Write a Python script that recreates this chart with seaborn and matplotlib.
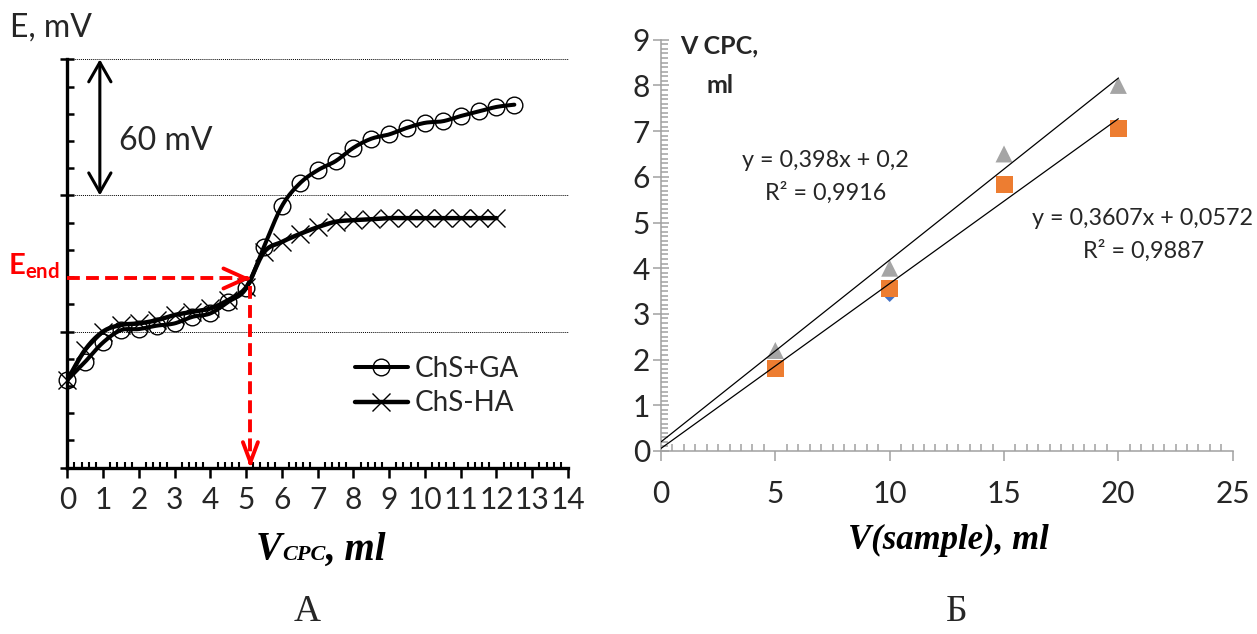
import numpy as np
import matplotlib
matplotlib.use("Agg")
import matplotlib.pyplot as plt
import seaborn as sns
from matplotlib.lines import Line2D
from matplotlib.ticker import MultipleLocator
from matplotlib.offsetbox import TextArea, HPacker, AnnotationBbox

# ---------------- Panel A: titration curves ----------------
ga_v = [0, 0.5, 1, 1.5, 2, 2.5, 3, 3.5, 4, 4.5, 5, 5.5, 6, 6.5, 7, 7.5, 8, 8.5,
        9, 9.5, 10, 10.5, 11, 11.5, 12, 12.5]
ga_e = [38.6, 46.7, 55.2, 60.6, 61.1, 62.6, 63.6, 66.5, 68.0, 73.1, 79.0, 97.4,
        115.3, 125.3, 131.1, 135.1, 141.0, 145.0, 146.9, 149.8, 152.0, 152.7,
        155.0, 157.0, 159.0, 160.0]
ha_v = [0, 0.5, 1, 1.5, 2, 2.5, 3, 3.5, 4, 4.5, 5, 5.5, 6, 6.5, 7, 7.5, 8, 8.5,
        9, 9.5, 10, 10.5, 11, 11.5, 12]
ha_e = [38.6, 52.0, 60.0, 62.9, 63.6, 65.0, 67.3, 68.7, 70.2, 73.9, 79.5, 95.0,
        99.5, 103.0, 106.0, 108.4, 109.1, 109.5, 110.0, 110.0, 110.0, 110.0,
        110.0, 110.0, 110.0]
series_a = ["ChS+GA", "ChS-HA"]
e_end = 83.4
v_end = 5.12

# ---------------- Panel B: calibration ----------------
sample_v = [5, 10, 15, 20]
cpc_blue = [1.78, 3.42, 5.80, 7.03]
cpc_orange = [1.81, 3.56, 5.84, 7.06]
cpc_gray = [2.2, 4.0, 6.5, 8.0]
fit_slope = [0.398, 0.3607]
fit_icpt = [0.2, 0.0572]
fit_r2 = [0.9916, 0.9887]
fit_x = [0, 20]

W, H = 1257, 634


def fx(px):
    return px / W


def fy(py):
    return 1 - py / H


def catmull_rom(x, y, steps=16):
    p = np.column_stack([x, y]).astype(float)
    p = np.vstack([p[0], p, p[-1]])
    t = np.linspace(0, 1, steps, endpoint=False)[:, None]
    segs = []
    for i in range(1, len(p) - 2):
        p0, p1, p2, p3 = p[i - 1], p[i], p[i + 1], p[i + 2]
        segs.append(0.5 * (2 * p1 + (-p0 + p2) * t
                           + (2 * p0 - 5 * p1 + 4 * p2 - p3) * t ** 2
                           + (-p0 + 3 * p1 - 3 * p2 + p3) * t ** 3))
    segs.append(p[-2][None, :])
    out = np.vstack(segs)
    return out[:, 0], out[:, 1]


sns.set_theme(style="white")
plt.rcParams["font.family"] = ["Lato", "DejaVu Sans"]
plt.rcParams["mathtext.fontset"] = "custom"
plt.rcParams["mathtext.bf"] = "Lato:bold"
plt.rcParams["mathtext.rm"] = "Lato"

fig = plt.figure(figsize=(W / 100, H / 100), dpi=100)
fig.patch.set_facecolor("white")
axA = fig.add_axes([fx(67.3), fy(467.7), fx(568) - fx(67.3), fy(59.3) - fy(467.7)])
axB = fig.add_axes([fx(661), fy(451), fx(1232.7) - fx(661), fy(39.7) - fy(451)])

# ---- Panel A drawing ----
gx, gy = catmull_rom(ga_v, ga_e)
hx, hy = catmull_rom(ha_v, ha_e)
sns.lineplot(x=gx, y=gy, sort=False, estimator=None, color="black", lw=2.9,
             ax=axA, zorder=3)
sns.lineplot(x=hx, y=hy, sort=False, estimator=None, color="black", lw=3.2,
             ax=axA, zorder=3)
sns.lineplot(x=ga_v, y=ga_e, sort=False, estimator=None, marker="o",
             linestyle="none", markersize=12, markerfacecolor="none",
             markeredgecolor="black", markeredgewidth=1.0, ax=axA,
             clip_on=False, zorder=4)
sns.lineplot(x=ha_v, y=ha_e, sort=False, estimator=None, marker="x",
             linestyle="none", markersize=12.5, markeredgecolor="black",
             markeredgewidth=1.0, color="black", ax=axA, clip_on=False,
             zorder=4)

axA.set_xlim(0, 14)
axA.set_ylim(0, 180)
axA.xaxis.set_major_locator(MultipleLocator(1))
axA.xaxis.set_minor_locator(MultipleLocator(0.2))
axA.yaxis.set_major_locator(MultipleLocator(60))
axA.yaxis.set_minor_locator(MultipleLocator(12))
axA.tick_params(axis="x", which="major", direction="out", length=7, width=1.8,
                color="black", labelsize=21.5, pad=6, bottom=True)
axA.tick_params(axis="x", which="minor", direction="in", length=4.6, width=1.5,
                color="black", bottom=True)
axA.tick_params(axis="y", which="major", direction="inout", length=10,
                width=1.8, color="black", labelleft=False, left=True)
axA.tick_params(axis="y", which="minor", direction="in", length=4.8, width=1.8,
                color="black", left=True)
for s in ["top", "right"]:
    axA.spines[s].set_visible(False)
for s in ["left", "bottom"]:
    axA.spines[s].set_color("black")
    axA.spines[s].set_linewidth(2.4)
axA.grid(False)
for yv in [60, 120, 180]:
    axA.axhline(yv, color="black", lw=0.7, ls=(0, (1, 1)), zorder=1,
                clip_on=False)
axA.set_xlabel("")
axA.set_ylabel("")

# 60 mV scale arrow
axA.annotate("", xy=(0.91, 180), xytext=(0.91, 120),
             arrowprops=dict(arrowstyle="<->,head_length=0.7,head_width=0.4",
                             lw=2.2, color="black", shrinkA=0, shrinkB=0,
                             mutation_scale=20))
fig.text(fx(119), fy(150), "60 mV", fontsize=23, ha="left", va="baseline")

# end-point construction
dash = (0, (3.3, 1.6))
axA.plot([0, v_end - 0.1], [e_end, e_end], color="red", lw=2.8, ls=dash,
         zorder=5, clip_on=False)
axA.annotate("", xy=(v_end, e_end), xytext=(v_end - 0.1, e_end),
             arrowprops=dict(arrowstyle="->,head_length=0.8,head_width=0.36",
                             lw=2.8, color="red", shrinkA=0, shrinkB=0,
                             mutation_scale=20), zorder=5)
axA.plot([v_end, v_end], [80, 3], color="red", lw=2.8, ls=dash, zorder=5)
axA.annotate("", xy=(v_end, 0), xytext=(v_end, 3),
             arrowprops=dict(arrowstyle="->,head_length=0.72,head_width=0.27",
                             lw=2.8, color="red", shrinkA=0, shrinkB=0,
                             mutation_scale=20), zorder=5)
fig.text(fx(60), fy(274), r"$\mathbf{E}_{\mathbf{end}}$", fontsize=21,
         color="red", ha="right", va="baseline")

fig.text(fx(10), fy(37), "E, mV", fontsize=23, ha="left", va="baseline")

handles = [
    Line2D([], [], color="black", lw=2.9, marker="o", ms=12, mfc="none",
           mec="black", mew=1.0),
    Line2D([], [], color="black", lw=3.2, marker="x", ms=12.5, mec="black",
           mew=1.0),
]
axA.legend(handles, series_a, loc="upper left",
           bbox_to_anchor=(fx(355), fy(356)), bbox_transform=fig.transFigure,
           frameon=False, fontsize=20, handlelength=1.9, handletextpad=0.25,
           labelspacing=0.3, borderpad=0, borderaxespad=0)

serif_bi = dict(family="Liberation Serif", weight="bold", style="italic",
                color="black")
xlab = HPacker(children=[TextArea("V", textprops=dict(fontsize=28, **serif_bi)),
                         TextArea("CPC", textprops=dict(fontsize=16, **serif_bi)),
                         TextArea(", ml", textprops=dict(fontsize=28, **serif_bi))],
               align="baseline", pad=0, sep=0)
fig.add_artist(AnnotationBbox(xlab, (fx(321), fy(550)),
                              xycoords="figure fraction", frameon=False,
                              box_alignment=(0.5, 0.5)))

# ---- Panel B drawing ----
sns.scatterplot(x=sample_v, y=cpc_blue, marker="D", s=55, color="#4472C4",
                edgecolor="none", ax=axB, zorder=3)
sns.scatterplot(x=sample_v, y=cpc_orange, marker="s", s=150, color="#ED7D31",
                edgecolor="none", ax=axB, zorder=4)
sns.scatterplot(x=sample_v, y=cpc_gray, marker="^", s=150, color="#A5A5A5",
                edgecolor="none", ax=axB, zorder=4)
for a, b in zip(fit_slope, fit_icpt):
    sns.lineplot(x=fit_x, y=[a * v + b for v in fit_x], color="black", lw=0.9,
                 ax=axB, zorder=5)

axB.set_xlim(0, 25)
axB.set_ylim(0, 9)
axB.xaxis.set_major_locator(MultipleLocator(5))
axB.xaxis.set_minor_locator(MultipleLocator(0.5))
axB.yaxis.set_major_locator(MultipleLocator(1))
axB.yaxis.set_minor_locator(MultipleLocator(0.1))
gray = "#A0A0A0"
axB.tick_params(axis="x", which="major", direction="out", length=7.2,
                width=1.1, color=gray, labelsize=21.5, pad=14, bottom=True)
axB.tick_params(axis="x", which="minor", direction="in", length=5, width=1.1,
                color=gray, bottom=True)
axB.tick_params(axis="y", which="major", direction="inout", length=12,
                width=1.1, color=gray, labelsize=21.5, pad=2, left=True)
axB.tick_params(axis="y", which="minor", direction="in", length=5, width=1.1,
                color=gray, left=True)
for s in ["top", "right"]:
    axB.spines[s].set_visible(False)
for s in ["left", "bottom"]:
    axB.spines[s].set_color(gray)
    axB.spines[s].set_linewidth(1.1)
axB.grid(False)
axB.set_xlabel("")
axB.set_ylabel("")


def dec(v):
    return f"{v:g}".replace(".", ",")


fig.text(fx(825), fy(166.7), f"y = {dec(fit_slope[0])}x + {dec(fit_icpt[0])}",
         fontsize=16.8, ha="center", va="baseline")
fig.text(fx(826), fy(200), f"R² = {dec(fit_r2[0])}", fontsize=16.8,
         ha="center", va="baseline")
fig.text(fx(1143), fy(225), f"y = {dec(fit_slope[1])}x + {dec(fit_icpt[1])}",
         fontsize=16.8, ha="center", va="baseline")
fig.text(fx(1144), fy(258.3), f"R² = {dec(fit_r2[1])}", fontsize=16.8,
         ha="center", va="baseline")

fig.text(fx(680), fy(53), "V CPC,", fontsize=18, weight="bold", ha="left",
         va="baseline")
fig.text(fx(706.7), fy(92.7), "ml", fontsize=18, weight="bold", ha="left",
         va="baseline")

fig.text(fx(948), fy(540), "V(sample), ml", fontsize=25, ha="center",
         va="center", **serif_bi)

fig.text(fx(307), fy(612), "А", fontsize=27, family="Liberation Serif",
         ha="center", va="center")
fig.text(fx(957), fy(612), "Б", fontsize=27, family="Liberation Serif",
         ha="center", va="center")

fig.savefig("out.png", dpi=100, facecolor="white")
